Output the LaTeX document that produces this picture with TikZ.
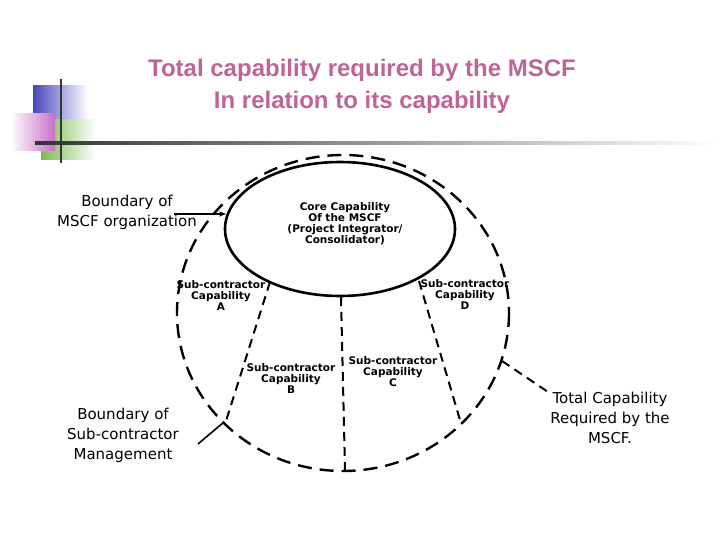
\documentclass[tikz,border=0pt]{standalone}
\usepackage{fontspec}
\setmainfont{DejaVu Sans}
\newfontfamily\titlefont{Liberation Sans}
\usetikzlibrary{arrows.meta,shapes.geometric}
\definecolor{titlepink}{RGB}{190,100,150}
\definecolor{sqblue}{RGB}{70,70,190}
\definecolor{sqgreen}{RGB}{110,180,60}
\definecolor{sqpink}{RGB}{200,110,200}
\tikzset{
  bigdash/.style={line width=2.4pt, dash pattern=on 14pt off 8pt},
  middash/.style={line width=2pt, dash pattern=on 9pt off 6pt},
  lbl/.style={font=\fontsize{10.5}{11}\selectfont\bfseries, align=center, inner sep=0pt},
  side/.style={font=\fontsize{15}{20}\selectfont, align=center, inner sep=0pt},
}
\begin{document}
\begin{tikzpicture}[x=1pt,y=-1pt]
\useasboundingbox (0,0) rectangle (720,540);
% decoration
\shade[left color=sqblue, right color=white] (33,86) rectangle (88,120);
\shade[left color=sqgreen!90, right color=white] (41,120) rectangle (96,160);
\shade[left color=white, right color=sqpink] (10,114) rectangle (55,151);
\shade[left color=black!80, right color=white] (35,142) rectangle (720,144.5);
\draw[line width=2pt, black!80] (61,79) -- (61,163);
% title
\node[font=\titlefont\fontsize{24}{32}\selectfont\bfseries, text=titlepink, align=center] (title) at (362,86) {Total capability required by the MSCF\\In relation to its capability};
% shapes
\draw[bigdash] (343,313) ellipse [x radius=166, y radius=158];
\node[draw, line width=2.6pt, ellipse, minimum width=230, minimum height=134, inner sep=0pt, fill=white] (core) at (340,229) {};
\node[lbl] (coret) at (345,224) {Core Capability\\Of the MSCF\\(Project Integrator/\\Consolidator)};
\coordinate (a1) at (270,282); \coordinate (a2) at (226,421);
\coordinate (c1) at (341,297); \coordinate (c2) at (345,470);
\coordinate (d1) at (419,281); \coordinate (d2) at (460,420);
\draw[middash] (a1) -- (a2);
\draw[middash] (c1) -- (c2);
\draw[middash] (d1) -- (d2);
\node[lbl] (A) at (221,296) {Sub-contractor\\Capability\\A};
\node[lbl] (B) at (291,379) {Sub-contractor\\Capability\\B};
\node[lbl] (C) at (393,372) {Sub-contractor\\Capability\\C};
\node[lbl] (D) at (465,295) {Sub-contractor\\Capability\\D};
% side labels
\node[side, anchor=east] (bm) at (197,212) {Boundary of\\MSCF organization};
\node[side] (bs) at (123,435) {Boundary of\\Sub-contractor\\Management};
\node[side] (tc) at (610,418) {Total Capability\\Required by the\\MSCF.};
\coordinate (bmend) at (226,214);
\draw[line width=1.2pt, -{Stealth[length=7pt]}] (174,214) -- (bmend);
\coordinate (bsend) at (224,422);
\draw[line width=1.6pt] (198,444) -- (bsend);
\coordinate (tcend) at (502,361);
\draw[line width=2pt, dash pattern=on 9pt off 6pt] (tcend) -- (551,394);
\end{tikzpicture}
\end{document}
